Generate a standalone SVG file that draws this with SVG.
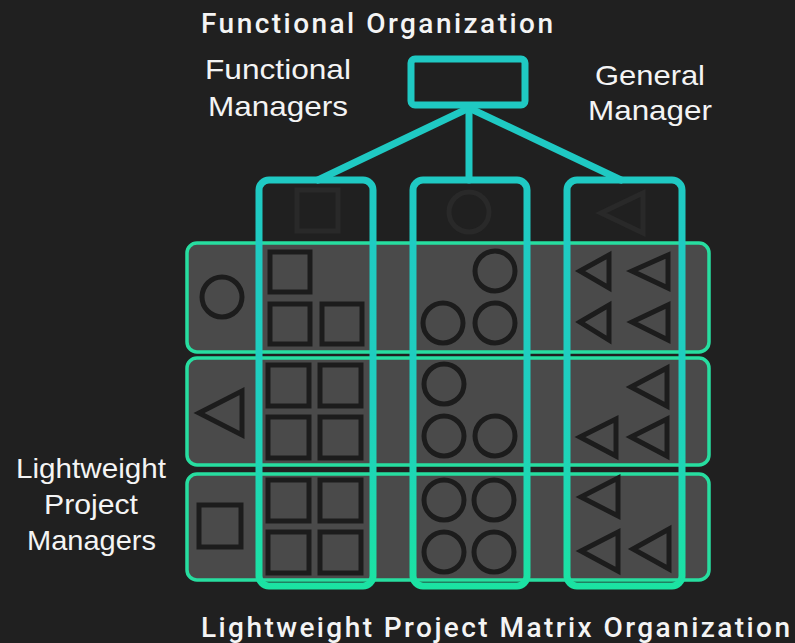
<svg xmlns="http://www.w3.org/2000/svg" width="795" height="643" viewBox="0 0 795 643">
  <defs>
    <linearGradient id="colGrad" gradientUnits="userSpaceOnUse" x1="0" y1="180" x2="0" y2="590">
      <stop offset="0" stop-color="#1fc9c3"/>
      <stop offset="0.55" stop-color="#1fcfbf"/>
      <stop offset="1" stop-color="#1be3a2"/>
    </linearGradient>
    <style>
      .bg { fill: #202020; }
      .row { fill: #4a4a4a; stroke: #27dea0; stroke-width: 3.5; }
      .col { fill: none; stroke: url(#colGrad); stroke-width: 7; }
      .top { fill: #202020; stroke: #1fc9c3; stroke-width: 7; }
      .link { stroke: #1fc9c3; stroke-width: 7; fill: none; stroke-linecap: round; }
      .sh { fill: none; stroke: #1c1c1c; stroke-width: 5; stroke-linejoin: miter; }
      .faint { fill: none; stroke: #292929; stroke-width: 5; }
      .lbl { fill: #f4f4f4; font-family: "Liberation Sans", Arial, sans-serif; font-size: 28px; }
      .ttl { fill: #f4f4f4; font-family: Roboto, "Liberation Sans", Arial, sans-serif; font-size: 28px; font-weight: 500; }
    </style>
  </defs>
  <rect class="bg" x="0" y="0" width="795" height="643"/>

  <!-- rows -->
  <g id="row1"><rect class="row" x="187" y="243" width="522" height="109" rx="10"/></g>
  <g id="row2"><rect class="row" x="187" y="358" width="522" height="107" rx="10"/></g>
  <g id="row3"><rect class="row" x="187" y="474" width="522" height="106" rx="10"/></g>

  <!-- connectors -->
  <g id="connectors">
    <line class="link" x1="469" y1="108" x2="318" y2="180"/>
    <line class="link" x1="469" y1="108" x2="469" y2="180"/>
    <line class="link" x1="469" y1="108" x2="621" y2="180"/>
  </g>

  <!-- top node -->
  <g id="general-manager"><rect class="top" x="411" y="59" width="114" height="46" rx="4"/></g>

  <!-- columns -->
  <g id="col1"><rect class="col" x="259" y="180" width="114" height="406" rx="10"/></g>
  <g id="col2"><rect class="col" x="413" y="180" width="114" height="406" rx="10"/></g>
  <g id="col3"><rect class="col" x="567" y="180" width="115" height="406" rx="10"/></g>

  <!-- faint column header shapes -->
  <g id="col-headers">
    <rect class="faint" x="297" y="190" width="41" height="41"/>
    <circle class="faint" cx="469" cy="212" r="20"/>
    <polygon class="faint" points="601,213 643,193 643,233"/>
  </g>

  <!-- row 1 shapes -->
  <g id="row1-shapes">
    <circle class="sh" cx="222" cy="297" r="20"/>
    <rect class="sh" x="270" y="252" width="40" height="40"/>
    <rect class="sh" x="270" y="304" width="40" height="40"/>
    <rect class="sh" x="322" y="304" width="40" height="40"/>
    <circle class="sh" cx="495" cy="271" r="20"/>
    <circle class="sh" cx="443" cy="323" r="20"/>
    <circle class="sh" cx="495" cy="323" r="20"/>
    <polygon class="sh" points="580,271 609,255 609,288"/>
    <polygon class="sh" points="632,271 668,255 668,288"/>
    <polygon class="sh" points="580,322 609,305 609,340"/>
    <polygon class="sh" points="632,322 668,305 668,340"/>
  </g>

  <!-- row 2 shapes -->
  <g id="row2-shapes">
    <polygon class="sh" points="199,413 242,391 242,435"/>
    <rect class="sh" x="268" y="365" width="41" height="41"/>
    <rect class="sh" x="320" y="365" width="41" height="41"/>
    <rect class="sh" x="268" y="417" width="41" height="41"/>
    <rect class="sh" x="320" y="417" width="41" height="41"/>
    <circle class="sh" cx="444" cy="384" r="20"/>
    <circle class="sh" cx="444" cy="436" r="20"/>
    <circle class="sh" cx="495" cy="436" r="20"/>
    <polygon class="sh" points="631,387 667,368 667,406"/>
    <polygon class="sh" points="580,437 616,419 616,456"/>
    <polygon class="sh" points="631,437 667,419 667,456"/>
  </g>

  <!-- row 3 shapes -->
  <g id="row3-shapes">
    <rect class="sh" x="199" y="505" width="42" height="42"/>
    <rect class="sh" x="268" y="480" width="41" height="41"/>
    <rect class="sh" x="320" y="480" width="41" height="41"/>
    <rect class="sh" x="268" y="532" width="41" height="41"/>
    <rect class="sh" x="320" y="532" width="41" height="41"/>
    <circle class="sh" cx="444" cy="500" r="20"/>
    <circle class="sh" cx="494" cy="500" r="20"/>
    <circle class="sh" cx="444" cy="552" r="20"/>
    <circle class="sh" cx="494" cy="552" r="20"/>
    <polygon class="sh" points="581,497 618,478 618,516"/>
    <polygon class="sh" points="581,551 618,532 618,571"/>
    <polygon class="sh" points="633,549 669,529 669,569"/>
  </g>

  <!-- labels -->
  <g id="labels">
    <text class="ttl" x="201" y="33" textLength="352" lengthAdjust="spacing">Functional Organization</text>
    <text class="lbl" x="205" y="79" textLength="146" lengthAdjust="spacingAndGlyphs">Functional</text>
    <text class="lbl" x="208" y="116" textLength="140" lengthAdjust="spacingAndGlyphs">Managers</text>
    <text class="lbl" x="595" y="85" textLength="110" lengthAdjust="spacingAndGlyphs">General</text>
    <text class="lbl" x="588" y="120" textLength="124" lengthAdjust="spacingAndGlyphs">Manager</text>
    <text class="lbl" x="16" y="478" textLength="150" lengthAdjust="spacingAndGlyphs">Lightweight</text>
    <text class="lbl" x="44" y="514" textLength="94" lengthAdjust="spacingAndGlyphs">Project</text>
    <text class="lbl" x="27" y="550" textLength="129" lengthAdjust="spacingAndGlyphs">Managers</text>
    <text class="ttl" x="201" y="637" font-size="29" textLength="589" lengthAdjust="spacing">Lightweight Project Matrix Organization</text>
  </g>
</svg>
